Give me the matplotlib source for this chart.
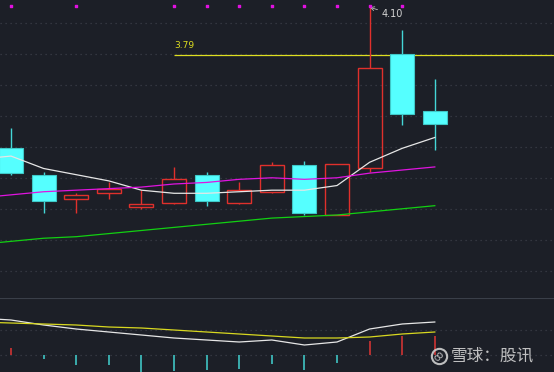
import matplotlib
matplotlib.use('Agg')
import matplotlib.pyplot as plt
import numpy as np
from matplotlib.patches import Rectangle

# candles, index 0..13
opens = [3.19, 3.02, 2.86, 2.90, 2.81, 2.84, 3.02, 2.84, 2.91, 3.08, 2.76, 3.06, 3.80, 3.43]
closes = [3.03, 2.85, 2.89, 2.93, 2.83, 2.99, 2.85, 2.92, 3.08, 2.77, 3.09, 3.71, 3.41, 3.35]
highs = [3.32, 3.04, 2.90, 2.97, 2.92, 3.07, 3.04, 2.97, 3.10, 3.11, 3.09, 4.10, 3.95, 3.64]
lows = [3.02, 2.77, 2.77, 2.86, 2.80, 2.83, 2.82, 2.83, 2.90, 2.76, 2.76, 3.04, 3.34, 3.18]

# moving averages, index -1..13 (first point is off the left edge)
ma_white = [3.12, 3.14, 3.06, 3.02, 2.98, 2.92, 2.90, 2.90, 2.91, 2.92, 2.92, 2.95, 3.10, 3.19, 3.26]
ma_magenta = [2.87, 2.89, 2.91, 2.92, 2.93, 2.94, 2.96, 2.97, 2.99, 3.00, 2.99, 3.00, 3.03, 3.05, 3.07]
ma_green = [2.57, 2.59, 2.61, 2.62, 2.64, 2.66, 2.68, 2.70, 2.72, 2.74, 2.75, 2.76, 2.78, 2.80, 2.82]

# signal dots along the top
signal_idx = [0, 2, 5, 6, 7, 8, 9, 10, 11, 12]

# level line
level_price = 3.79
level_start = 5
peak_idx = 11
peak_price = 4.10

# lower panel, index -1..13
dif = [0.037, 0.035, 0.030, 0.026, 0.023, 0.020, 0.017, 0.015, 0.013, 0.015, 0.010, 0.013, 0.026, 0.031, 0.033]
dea = [0.033, 0.032, 0.031, 0.030, 0.028, 0.027, 0.025, 0.023, 0.021, 0.019, 0.017, 0.017, 0.018, 0.021, 0.023]
# bars, index 0..13
macd_bars = [0.007, -0.004, -0.010, -0.010, -0.017, -0.016, -0.015, -0.014, -0.009, -0.015, -0.008, 0.014, 0.019, 0.019]

bg = '#1c1f27'
red = '#e0302c'
cyan = '#55ffff'
grid_color = '#3b3e47'

fig = plt.figure(figsize=(5.54, 3.72), dpi=100)
fig.patch.set_facecolor(bg)
ax = fig.add_axes([0, 74 / 372, 1, 298 / 372])
ax2 = fig.add_axes([0, 0, 1, 74 / 372])

xlim = (-11 / 32.6, 543 / 32.6)
for a in (ax, ax2):
    a.set_facecolor(bg)
    a.set_xlim(*xlim)
    for s in a.spines.values():
        s.set_visible(False)
    a.set_xticks([])
    a.set_yticks([])

ax.set_ylim(2.2246, 4.1467)
ax2.set_ylim(-0.017, 0.057)

# dotted grid
for p in np.arange(2.4, 4.01, 0.2):
    ax.axhline(p, color=grid_color, lw=0.9, ls=(0, (1, 3)), zorder=0)
for v in (0.0, 0.025):
    ax2.axhline(v, color=grid_color, lw=0.9, ls=(0, (1, 3)), zorder=0)
ax2.axhline(0.057, color='#3a3f49', lw=1.5, zorder=0)

# candles
w = 0.74
for i in range(len(opens)):
    o, c, h, l = opens[i], closes[i], highs[i], lows[i]
    top, bot = max(o, c), min(o, c)
    if c >= o:
        ax.vlines(i, top, h, color=red, lw=1.0, zorder=3)
        ax.vlines(i, l, bot, color=red, lw=1.0, zorder=3)
        ax.add_patch(Rectangle((i - w / 2, bot), w, top - bot, facecolor='none',
                               edgecolor=red, lw=1.0, zorder=3))
    else:
        ax.vlines(i, l, h, color='#44d6d6', lw=1.0, zorder=2)
        ax.add_patch(Rectangle((i - w / 2, bot), w, top - bot, facecolor=cyan,
                               edgecolor='#3fc8c8', lw=0.8, zorder=3))

xs = np.arange(-1, len(opens))
ax.plot(xs, ma_white, color='#e6e6e6', lw=0.9, zorder=4)
ax.plot(xs, ma_magenta, color='#e014e0', lw=0.9, zorder=4)
ax.plot(xs, ma_green, color='#12d012', lw=0.9, zorder=4)

# signal dots
ax.scatter(signal_idx, [0.98] * len(signal_idx), marker='s', s=4, color='#e010e0',
           transform=ax.get_xaxis_transform(), zorder=5, clip_on=False)

# level line and label
ax.hlines(level_price, level_start, xlim[1], color='#dede20', lw=0.9, zorder=1)
ax.annotate('%.2f' % level_price, (level_start, level_price), xytext=(0, 5),
            textcoords='offset pixels', color='#dede20', fontsize=6.5,
            ha='left', va='bottom')

# peak annotation
ax.annotate('%.2f' % peak_price, (peak_idx, peak_price), xytext=(12, -7),
            textcoords='offset pixels', color='#d4d4d4', fontsize=7,
            ha='left', va='center',
            arrowprops=dict(arrowstyle='->', color='#bbbbbb', lw=0.6,
                            shrinkA=1, shrinkB=0))

# lower panel
ax2.plot(xs, dif, color='#e6e6e6', lw=0.9, zorder=3)
ax2.plot(xs, dea, color='#d8d820', lw=0.9, zorder=3)
bar_colors = ['#d03434' if v > 0 else '#3fc4c4' for v in macd_bars]
ax2.vlines(np.arange(len(macd_bars)), 0, macd_bars, colors=bar_colors, lw=1.2, zorder=2)

# watermark: round logo + text
logo_xy = (438.5 / 554, 1 - 356 / 372)
fig.lines.append(plt.Line2D([logo_xy[0]], [logo_xy[1]], transform=fig.transFigure,
                            marker='o', markersize=11, markerfacecolor='none',
                            markeredgecolor='#cfcfcf', markeredgewidth=1.5, alpha=0.9))
fig.text(logo_xy[0], logo_xy[1], 'ꝏ', color='#cfcfcf', alpha=0.9, fontsize=7,
         family=['DejaVu Sans'], ha='center', va='center', rotation=45)
fig.text(451 / 554, 1 - 356 / 372, '雪球：股讯', color='#d2d2d2', alpha=0.9, fontsize=12,
         family=['Noto Sans CJK SC', 'DejaVu Sans'], ha='left', va='center')

fig.savefig('out.png', dpi=100, facecolor=bg)
